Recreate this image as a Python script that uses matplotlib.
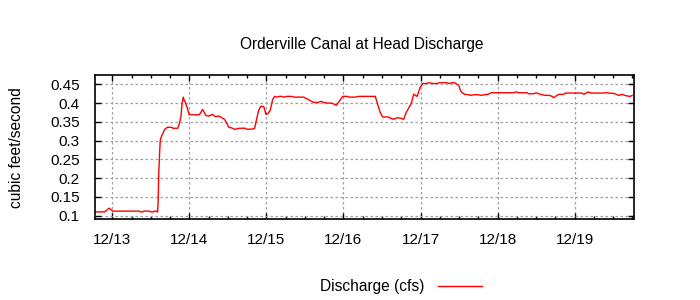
import matplotlib
matplotlib.use("Agg")
import matplotlib.pyplot as plt
from matplotlib.ticker import MultipleLocator, FixedLocator

# Time as day-of-December (fractional), discharge in cfs
days = [12.779, 12.901, 12.961, 13.005, 13.356, 13.366, 13.398, 13.405, 13.489, 13.496,
        13.537, 13.545, 13.567, 13.580, 13.589, 13.596, 13.602, 13.615, 13.623, 13.636,
        13.654, 13.680, 13.714, 13.775, 13.784, 13.849, 13.870, 13.892, 13.905, 13.921,
        13.934, 13.947, 13.969, 13.999, 14.129, 14.173, 14.216, 14.251, 14.303, 14.337,
        14.381, 14.424, 14.459, 14.489, 14.511, 14.554, 14.589, 14.648, 14.726, 14.748,
        14.822, 14.848, 14.874, 14.900, 14.926, 14.965, 14.995, 15.021, 15.051, 15.082,
        15.108, 15.138, 15.167, 15.202, 15.232, 15.267, 15.332, 15.358, 15.484, 15.505,
        15.540, 15.570, 15.614, 15.679, 15.709, 15.744, 15.787, 15.852, 15.878, 15.907,
        15.938, 15.964, 15.990, 16.046, 16.076, 16.154, 16.198, 16.413, 16.422, 16.448,
        16.478, 16.509, 16.587, 16.608, 16.652, 16.695, 16.738, 16.782, 16.812, 16.847,
        16.881, 16.912, 16.932, 16.955, 16.977, 16.997, 17.032, 17.062, 17.106, 17.149,
        17.201, 17.243, 17.343, 17.373, 17.418, 17.444, 17.461, 17.496, 17.517, 17.539,
        17.574, 17.626, 17.646, 17.690, 17.755, 17.789, 17.820, 17.876, 17.919, 18.210,
        18.243, 18.275, 18.382, 18.404, 18.469, 18.499, 18.534, 18.577, 18.620, 18.672,
        18.707, 18.729, 18.759, 18.794, 18.859, 18.880, 19.097, 19.119, 19.140, 19.171,
        19.217, 19.378, 19.408, 19.443, 19.508, 19.538, 19.573, 19.616, 19.651, 19.694,
        19.723, 19.745]
discharge = [0.110, 0.110, 0.120, 0.112, 0.112, 0.110, 0.110, 0.112, 0.112, 0.110,
             0.110, 0.112, 0.112, 0.110, 0.110, 0.143, 0.205, 0.270, 0.301, 0.310,
             0.318, 0.330, 0.3355, 0.3355, 0.333, 0.333, 0.345, 0.365, 0.398, 0.416,
             0.407, 0.403, 0.390, 0.369, 0.369, 0.383, 0.367, 0.3655, 0.370, 0.364,
             0.3655, 0.361, 0.356, 0.345, 0.336, 0.3335, 0.330, 0.333, 0.333, 0.330,
             0.331, 0.333, 0.3585, 0.381, 0.3915, 0.391, 0.370, 0.372, 0.382, 0.410,
             0.418, 0.416, 0.418, 0.418, 0.416, 0.418, 0.418, 0.416, 0.416, 0.4135,
             0.410, 0.4065, 0.402, 0.402, 0.4047, 0.402, 0.400, 0.400, 0.397, 0.394,
             0.403, 0.410, 0.418, 0.418, 0.416, 0.416, 0.418, 0.418, 0.4118, 0.394,
             0.3745, 0.363, 0.363, 0.360, 0.357, 0.361, 0.360, 0.357, 0.3745, 0.387,
             0.400, 0.424, 0.4207, 0.418, 0.4313, 0.443, 0.4527, 0.452, 0.4543, 0.4527,
             0.452, 0.4543, 0.4543, 0.4527, 0.4543, 0.4543, 0.452, 0.4474, 0.434, 0.4277,
             0.4234, 0.4223, 0.4207, 0.4223, 0.4223, 0.4207, 0.4223, 0.4234, 0.4277, 0.4277,
             0.430, 0.4277, 0.4277, 0.425, 0.425, 0.4277, 0.425, 0.4223, 0.4207, 0.4207,
             0.418, 0.4144, 0.419, 0.4234, 0.4234, 0.4268, 0.4268, 0.4234, 0.426, 0.4295,
             0.4268, 0.4268, 0.428, 0.4268, 0.426, 0.4234, 0.4207, 0.4234, 0.4207, 0.4185,
             0.418, 0.4207]

tick_days = [13, 14, 15, 16, 17, 18, 19]
tick_labels = ["12/13", "12/14", "12/15", "12/16", "12/17", "12/18", "12/19"]
y_ticks = [0.1, 0.15, 0.2, 0.25, 0.3, 0.35, 0.4, 0.45]
y_tick_labels = ["0.1", "0.15", "0.2", "0.25", "0.3", "0.35", "0.4", "0.45"]

plt.rcParams['font.family'] = ['Liberation Sans', 'DejaVu Sans']
FS = 11.2

fig = plt.figure(figsize=(7, 3), dpi=100)
ax = fig.add_axes([95 / 700, 1 - 219 / 300, (634 - 95) / 700, (219 - 75) / 300])

line, = ax.plot(days, discharge, color='#ff0000', linewidth=1.0)

ax.set_xlim(12.776, 19.77)
ax.set_ylim(0.091, 0.475)

ax.xaxis.set_major_locator(FixedLocator(tick_days))
ax.set_xticklabels(tick_labels)
ax.xaxis.set_minor_locator(MultipleLocator(0.25))
ax.yaxis.set_major_locator(FixedLocator(y_ticks))
ax.set_yticklabels(y_tick_labels)

ax.tick_params(which='major', direction='in', length=4, width=1,
               top=True, right=True, labelsize=FS - 0.2, pad=11, colors='black')
ax.tick_params(axis='x', which='major', pad=10)
ax.tick_params(which='minor', direction='in', length=2, width=1,
               top=True, right=False, left=False, bottom=True)

ax.grid(True, which='major', color='#a0a0a0', linestyle=(0, (2, 2)), linewidth=0.9)
for s in ax.spines.values():
    s.set_linewidth(1.2)
    s.set_color('black')

fig.text(362 / 700, 1 - 45 / 300, "Orderville Canal at Head Discharge",
         ha='center', va='center', fontsize=FS)
fig.text(17 / 700, 1 - 148 / 300, "cubic feet/second", rotation=90,
         ha='center', va='center', fontsize=FS)

# legend
fig.text(424 / 700, 1 - 286 / 300, "Discharge (cfs)", ha='right', va='center', fontsize=FS)
fig.add_artist(plt.Line2D([438 / 700, 482 / 700], [1 - 286 / 300, 1 - 286 / 300],
                          color='#ff0000', linewidth=1.0, transform=fig.transFigure))

fig.savefig("out.png", dpi=100)
